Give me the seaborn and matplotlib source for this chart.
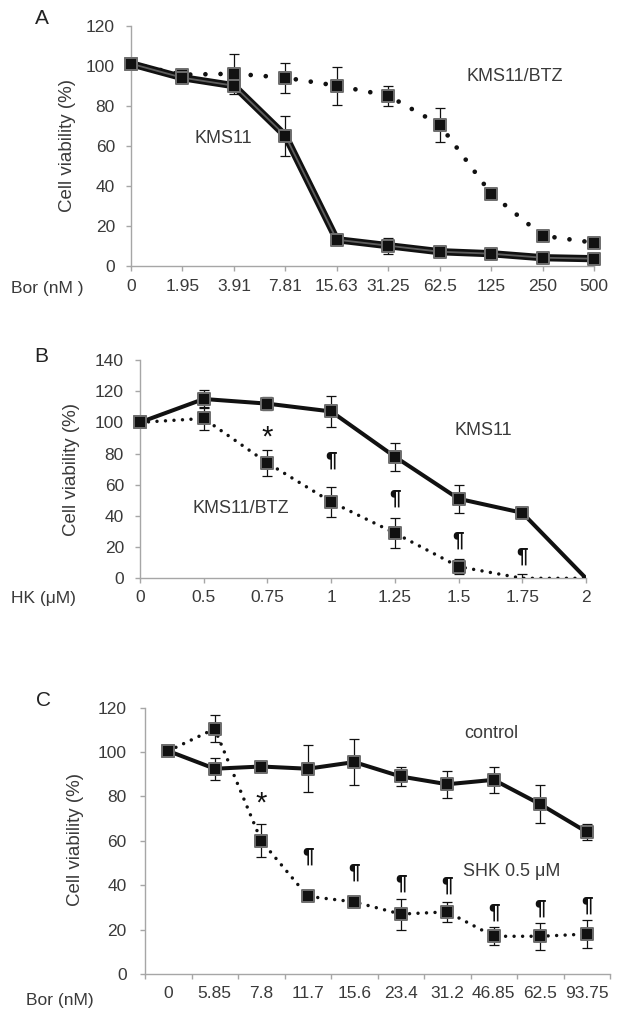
import numpy as np
import matplotlib
matplotlib.use("Agg")
import matplotlib.pyplot as plt
import seaborn as sns

# ---------------- data ----------------
a_labels = ['0', '1.95', '3.91', '7.81', '15.63', '31.25', '62.5', '125', '250', '500']
a_kms11 = [101, 94, 90, 65, 13, 10, 7, 6, 4, 3.5]
a_kms11_err = [0, 1.5, 2, 10, 1.5, 4, 1, 1, 1, 0.5]
a_btz = [101, 95.5, 96, 94, 90, 85, 70.5, 36, 15, 11.5]
a_btz_err = [0, 1.5, 10, 7.5, 9.5, 5, 8.5, 1.5, 1.5, 1]

b_labels = ['0', '0.5', '0.75', '1', '1.25', '1.5', '1.75', '2']
b_kms11 = [100, 115, 112, 107, 78, 51, 42, 0]
b_kms11_err = [0, 6, 4, 10, 9, 9, 2, 0]
b_btz = [100, 102.5, 74, 49, 29, 7.5, 0, 0]
b_btz_err = [0, 7.5, 8.5, 9.6, 9.8, 5, 3, 0]
b_star = [2]
b_para = [3, 4, 5, 6]
b_star_y = [90]
b_para_y = [76, 51.5, 24.5, 14.5]

c_labels = ['0', '5.85', '7.8', '11.7', '15.6', '23.4', '31.2', '46.85', '62.5', '93.75']
c_control = [100.5, 92.5, 93.5, 92.5, 95.5, 89, 85.5, 87.5, 76.5, 64]
c_control_err = [0, 5, 1, 10.5, 10.5, 4.5, 6, 6, 8.5, 3.5]
c_shk = [100.5, 110.5, 60, 35, 32.5, 27, 28, 17, 17, 18]
c_shk_err = [0, 6, 7.5, 1, 1, 7, 4.5, 4, 6, 6.5]
c_star = [2]
c_star_y = [77]
c_para = [3, 4, 5, 6, 7, 8, 9]
c_para_y = [53, 46, 41, 40, 28, 29.5, 31]

# ---------------- style ----------------
sns.set_theme(style="white")
plt.rcParams['font.family'] = ['Liberation Sans', 'DejaVu Sans']
TXT = '#3a3a3a'
AXC = '#a6a6a6'

W, H = 618, 1019
fig = plt.figure(figsize=(W / 100, H / 100), dpi=100)


def px(x, y):
    return x / W, 1 - y / H


def style_axes(ax, ypad, xpad):
    for s in ['top', 'right']:
        ax.spines[s].set_visible(False)
    for s in ['left', 'bottom']:
        ax.spines[s].set_color(AXC)
        ax.spines[s].set_linewidth(1.0)
    ax.tick_params(axis='y', which='major', direction='out', length=3.6, width=1,
                   color=AXC, labelcolor=TXT, labelsize=12.5, pad=ypad, left=True)
    ax.tick_params(axis='x', which='both', direction='out', length=3.6, width=1,
                   color=AXC, labelcolor=TXT, labelsize=12.5, pad=xpad, bottom=True)
    ax.set_xlabel('')
    ax.set_ylabel('')
    ax.grid(False)


def series(ax, x, y, err, solid, lw, ms, dot_lw=2.5, dot_gap=2.45, inner=False):
    x = np.asarray(x)
    y = np.asarray(y, dtype=float)
    err = np.asarray(err, dtype=float)
    if solid:
        sns.lineplot(x=x, y=y, ax=ax, color='#111111', linewidth=lw, sort=False,
                     errorbar=None, solid_joinstyle='miter', zorder=3)
        if inner:
            sns.lineplot(x=x, y=y, ax=ax, color='#5e5e5e', linewidth=1.3, sort=False,
                         errorbar=None, zorder=3.1)
    else:
        sns.lineplot(x=x, y=y, ax=ax, color='#111111', linewidth=dot_lw, sort=False,
                     errorbar=None, linestyle=(0, (0.001, dot_gap)),
                     dash_capstyle='round', zorder=3)
    m = y > 0
    ax.errorbar(x[err > 0], y[err > 0], yerr=err[err > 0], fmt='none', ecolor='#111111',
                elinewidth=0.9, capsize=3.4, capthick=0.9, zorder=3.5)
    sns.scatterplot(x=x[m], y=y[m], ax=ax, marker='s', s=ms ** 2, color='#111111',
                    edgecolor='#6e6e6e', linewidth=1.4, zorder=4, clip_on=False,
                    legend=False)


# ---------------- panel A ----------------
axA = fig.add_axes([*px(131, 265.7), (594 - 131) / W, 240 / H])
xa = np.arange(len(a_labels))
series(axA, xa, a_btz, a_btz_err, solid=False, lw=0, ms=9.2, dot_lw=3.4, dot_gap=3.2)
series(axA, xa, a_kms11, a_kms11_err, solid=True, lw=5.2, ms=9.2, inner=True)
axA.set_xlim(0, 9)
axA.set_ylim(0, 120)
axA.set_yticks(np.arange(0, 121, 20))
axA.set_xticks(xa)
axA.set_xticklabels(a_labels)
style_axes(axA, ypad=8, xpad=6)
axA.text(1.8, 63.8, 'KMS11', ha='center', va='center', fontsize=13, color=TXT)
axA.text(7.46, 94.5, 'KMS11/BTZ', ha='center', va='center', fontsize=13, color=TXT)
fig.text(*px(42, 18), 'A', ha='center', va='center', fontsize=15, color='#222222')
fig.text(*px(67.5, 145), 'Cell viability (%)', rotation=90, ha='center', va='center',
         fontsize=13.5, color=TXT)
fig.text(*px(47, 288), 'Bor (nM )', ha='center', va='center', fontsize=12.5, color=TXT)

# ---------------- panel B ----------------
axB = fig.add_axes([*px(140, 578.3), (586 - 140) / W, 218.3 / H])
xb = np.arange(len(b_labels))
series(axB, xb, b_btz, b_btz_err, solid=False, lw=0, ms=8.2)
series(axB, xb, b_kms11, b_kms11_err, solid=True, lw=2.9, ms=8.2)
axB.set_xlim(0, 7)
axB.set_ylim(0, 140)
axB.set_yticks(np.arange(0, 141, 20))
axB.set_xticks(xb)
axB.set_xticklabels(b_labels)
style_axes(axB, ypad=8, xpad=4.5)
for xi, yi in zip(b_star, b_star_y):
    axB.text(xi, yi, '*', ha='center', va='center', fontsize=21, color='#111111')
for xi, yi in zip(b_para, b_para_y):
    axB.text(xi, yi, '¶', ha='center', va='center', fontsize=15, fontweight='bold',
             color='#111111')
axB.text(5.39, 95, 'KMS11', ha='center', va='center', fontsize=13, color=TXT)
axB.text(1.59, 45, 'KMS11/BTZ', ha='center', va='center', fontsize=13, color=TXT)
fig.text(*px(41.7, 356.7), 'B', ha='center', va='center', fontsize=15, color='#222222')
fig.text(*px(71, 470), 'Cell viability (%)', rotation=90, ha='center', va='center',
         fontsize=13.5, color=TXT)
fig.text(*px(43.7, 598), 'HK (μM)', ha='center', va='center', fontsize=12.5, color=TXT)

# ---------------- panel C ----------------
axC = fig.add_axes([*px(145, 974), 465 / W, 266.3 / H])
xc = np.arange(len(c_labels))
series(axC, xc, c_shk, c_shk_err, solid=False, lw=0, ms=8.2)
series(axC, xc, c_control, c_control_err, solid=True, lw=2.9, ms=8.2)
axC.set_xlim(-0.5, 9.5)
axC.set_ylim(0, 120)
axC.set_yticks(np.arange(0, 121, 20))
axC.set_xticks(np.arange(-0.5, 10, 1))
axC.set_xticklabels([''] * 11)
axC.set_xticks(xc, minor=True)
axC.set_xticklabels(c_labels, minor=True)
style_axes(axC, ypad=9.5, xpad=8.5)
axC.tick_params(axis='x', which='minor', length=0)
for xi, yi in zip(c_star, c_star_y):
    axC.text(xi, yi, '*', ha='center', va='center', fontsize=21, color='#111111')
for xi, yi in zip(c_para, c_para_y):
    axC.text(xi, yi, '¶', ha='center', va='center', fontsize=15, fontweight='bold',
             color='#111111')
axC.text(6.94, 108.4, 'control', ha='center', va='center', fontsize=13, color=TXT)
axC.text(7.39, 46, 'SHK 0.5 μM', ha='center', va='center', fontsize=13, color=TXT)
fig.text(*px(43.7, 700), 'C', ha='center', va='center', fontsize=15, color='#222222')
fig.text(*px(75, 840), 'Cell viability (%)', rotation=90, ha='center', va='center',
         fontsize=13.5, color=TXT)
fig.text(*px(60, 1000), 'Bor (nM)', ha='center', va='center', fontsize=12.5, color=TXT)

fig.savefig('out.png', dpi=100, facecolor='white')
